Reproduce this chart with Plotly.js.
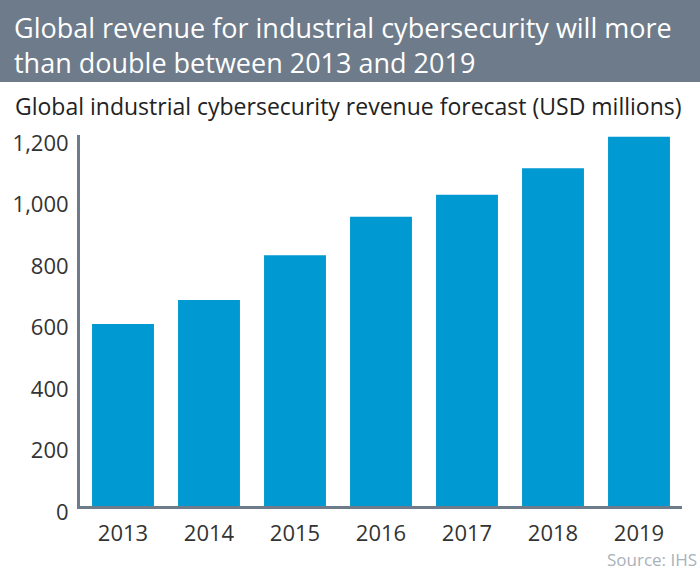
<!DOCTYPE html>
<html>
<head>
<meta charset="utf-8">
<script src="https://cdn.plot.ly/plotly-3.0.1.min.js"></script>
<style>html,body{margin:0;padding:0;background:#fff;}#chart{width:700px;height:570px;}</style>
</head>
<body>
<div id="chart"></div>
<script>
const years = ["2013", "2014", "2015", "2016", "2017", "2018", "2019"];
const revenue = [592, 670, 815, 940, 1012, 1098, 1200];
const yTickValues = [0, 200, 400, 600, 800, 1000, 1200];
const yTickLabels = ["0", "200", "400", "600", "800", "1,000", "1,200"];
const headline = "Global revenue for industrial cybersecurity will more<br>than double between 2013 and 2019";
const subtitle = "Global industrial cybersecurity revenue forecast (USD millions)";
const sourceNote = "Source: IHS";

const W = 700, H = 570;
const M = {l: 80, r: 18, t: 135, b: 64};
const pw = W - M.l - M.r, ph = H - M.t - M.b;
const px = x => (x - M.l) / pw;
const py = y => (H - M.b - y) / ph;

const FONT = "Open Sans, Roboto, sans-serif";
const axisColor = "#6d7b8a";

const trace = {
  type: "bar",
  x: years,
  y: revenue,
  marker: {color: "#0099d1", line: {width: 0}},
  hoverinfo: "x+y"
};

const layout = {
  width: W, height: H,
  margin: M,
  paper_bgcolor: "#fff",
  plot_bgcolor: "#fff",
  bargap: 0.28,
  showlegend: false,
  font: {family: FONT, color: "#333"},
  xaxis: {
    type: "category",
    showline: true, linecolor: axisColor, linewidth: 3,
    showgrid: false, ticks: "", zeroline: false,
    tickfont: {family: FONT, size: 22, color: "#333"},
    ticklabelstandoff: 6
  },
  yaxis: {
    range: [0, 1206],
    showline: true, linecolor: axisColor, linewidth: 3,
    showgrid: false, zeroline: false, ticks: "",
    tickvals: yTickValues, ticktext: yTickLabels,
    tickfont: {family: FONT, size: 22, color: "#333"},
    ticklabelstandoff: 4,
    ticklabelshift: 6
  },
  shapes: [{
    type: "rect", xref: "paper", yref: "paper",
    x0: px(0), x1: px(W), y0: py(82), y1: py(0),
    fillcolor: "#6d7b8a", line: {width: 0}, layer: "below"
  }],
  annotations: [
    {text: headline, xref: "paper", yref: "paper", x: px(12), y: py(7),
     xanchor: "left", yanchor: "top", align: "left", showarrow: false,
     font: {family: FONT, size: 27, color: "#ffffff"}},
    {text: subtitle, xref: "paper", yref: "paper", x: px(13), y: py(106),
     xanchor: "left", yanchor: "middle", align: "left", showarrow: false,
     font: {family: FONT, size: 23, color: "#222"}},
    {text: sourceNote, xref: "paper", yref: "paper", x: px(699), y: py(559),
     xanchor: "right", yanchor: "middle", align: "right", showarrow: false,
     font: {family: FONT, size: 17, color: "#a9b1ba"}}
  ]
};

Plotly.newPlot("chart", [trace], layout, {displayModeBar: false, staticPlot: true});
</script>
</body>
</html>
